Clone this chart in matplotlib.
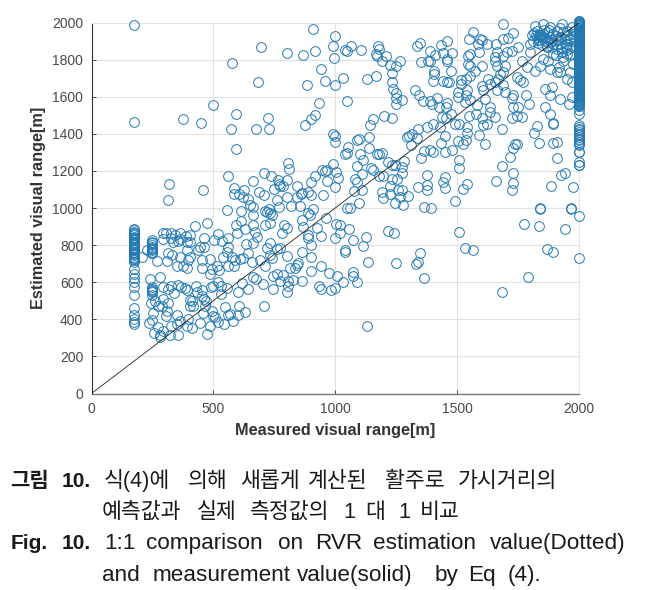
import matplotlib
matplotlib.use('Agg')
import matplotlib.pyplot as plt

plt.rcParams['font.family'] = ['Liberation Sans', 'Noto Sans CJK KR', 'DejaVu Sans']

# upper left part of the cloud
ul_x = [173,173,374,449,499,594,574,593,578,694,683,800,869,916,909,999,991,995,940,958,883,999,932,916,899,875,724,674,727,991,999,999,808,812,991,947,958,968,1003,708,737,561,664,767,801,770,774,787,916,899,967,1013,843,1001,317,456,314,586,627,586,607,623,644,687,708,749,801,761,845,860,865,890,899,950,652,661,557,613,713,730,770,820,856,908]
ul_y = [1985,1464,1480,1457,1555,1505,1424,1320,1783,1869,1680,1836,1826,1844,1964,1926,1876,1806,1747,1686,1661,1664,1566,1503,1480,1449,1485,1428,1428,1399,1388,1356,1240,1209,1238,1204,1200,1204,1195,1189,1175,1172,1148,1150,1150,1132,1120,1120,1173,1139,1143,1163,1116,1114,1129,1098,1041,1109,1098,1073,1078,1060,1050,1084,1068,1102,1057,1043,1059,1075,1080,1086,1068,1071,1016,1003,989,982,983,992,1007,1012,1012,996]

# the two columns of low measured values
col173_y = [885,879,873,866,860,853,846,839,832,825,819,812,805,798,792,785,778,771,765,758,751,745,738,731,724,717,711,672,645,622,600,574,532,459,425,401,384,373]
col247_y = [828,819,810,801,792,785,778,771,765,760,756,574,566,559,552,545,532]

# lower left part
ll_x = [208,226,269,295,295,306,325,325,343,363,363,388,404,336,356,390,404,423,475,462,501,518,537,561,593,615,630,596,664,664,671,678,633,664,732,719,774,760,732,742,801,644,561,555,541,575,589,609,623,657,691,712,462,445,438,315,329,363,390,404,397,311,349,377,390,452,452,486,486,514,493,525,561,585,240,282,292,315,325,356,367,384,390,340,429,434,452,489,497,519,530,557,531,603,616,644,664,675,702,743,746,760,774,787,808,808,801,828,865,815,835,849,842,899,940,973,1006,934,940,981,1001,244,261,274,288,295,315,311,306,352,251,247,236,271,256,281,281,295,322,354,325,349,363,397,390,411,404,411,404,418,452,462,466,470,493,459,500,507,445,486,473,520,544,549,561,568,607,600,630,582,708,719,732,739,712,732,790,801,780,890,897,865,867,890,890,927,940,962,1003,999,899,865,899]
ll_y = [735,771,715,864,832,867,864,837,855,864,832,849,855,819,824,819,819,903,918,837,828,858,824,837,909,932,887,864,962,909,873,846,805,810,814,783,783,778,747,729,742,756,792,765,738,738,720,724,729,708,717,685,792,792,774,756,747,738,774,738,720,715,690,685,676,720,676,724,645,690,672,667,688,690,618,627,574,563,581,586,574,568,556,541,581,545,556,574,581,602,581,568,538,548,595,563,627,616,591,563,631,645,604,640,604,581,545,613,608,676,676,703,694,658,690,652,631,577,563,559,568,487,496,470,470,509,487,443,416,421,434,398,378,358,326,317,305,335,317,317,366,375,389,401,362,353,505,496,473,470,523,511,470,496,443,434,416,412,380,366,321,385,376,466,425,430,473,425,437,393,473,980,971,962,909,918,909,891,864,971,962,936,900,855,837,891,849,948,914,837,801,765,735]

# middle and right part
mr_x = [1065,1039,1047,1107,1033,1048,1174,1181,1167,1173,1191,1208,1225,1249,1266,1232,1232,1132,1167,1238,1249,1249,1275,1249,1334,1349,1433,1459,1389,1409,1389,1382,1353,1444,1478,1457,1460,1475,1404,1407,1400,1444,1460,1468,1326,1342,1359,1389,1416,1396,1427,1460,1455,1200,1156,1233,1141,1140,1098,1091,1054,1040,1047,1140,1102,1170,1191,1181,1115,1091,1145,1154,1108,1081,1091,1108,1077,1181,1195,1218,1232,1245,1273,1282,1273,1232,1252,1225,1191,1197,1225,1259,1273,1266,1300,1245,1277,1099,1061,1047,1341,1375,1375,1375,1441,1450,1450,1526,1539,1492,1366,1392,1509,1509,1351,1366,1389,1403,1450,1478,1434,1450,1310,1293,1304,1314,1337,1341,1375,1403,1430,1437,1455,1475,1492,1509,1539,1539,1505,1526,1537,1591,1616,1550,1578,1601,1621,1608,1657,1635,1635,1683,1724,1745,1767,1728,1749,1793,1783,1724,1697,1731,1683,1660,1731,1731,1724,1717,1728,1738,1745,1834,1892,1909,1909,1827,1817,1861,1879,1892,1895,1884,1927,1944,1977,2000,1998,2000,1840,1966]
mr_y = [1874,1853,1849,1853,1700,1577,1874,1858,1831,1818,1795,1820,1772,1768,1792,1729,1679,1697,1709,1639,1621,1594,1584,1562,1872,1888,1881,1901,1845,1827,1795,1795,1786,1835,1836,1804,1795,1741,1738,1723,1684,1682,1679,1679,1636,1609,1577,1577,1591,1562,1544,1566,1544,1494,1482,1483,1449,1381,1374,1369,1329,1293,1297,1326,1290,1290,1297,1290,1258,1227,1218,1207,1182,1154,1138,1096,1091,1172,1172,1249,1231,1231,1222,1254,1186,1159,1159,1118,1087,1052,1078,1096,1096,1060,1064,1028,1016,1025,998,998,1111,1177,1123,1096,1141,1168,1109,1102,1127,1039,1007,998,1261,1213,1268,1306,1311,1302,1302,1315,1353,1388,1338,1383,1387,1397,1379,1428,1437,1455,1437,1491,1485,1508,1455,1451,1437,1405,1362,1347,1365,1394,1347,1498,1505,1487,1455,1446,1491,1544,1517,1426,1487,1494,1491,1544,1544,1562,1607,1594,1625,1607,1225,1147,1186,1136,1096,1276,1326,1347,1347,1353,1353,1356,1270,1442,1406,1544,1508,1460,1455,1118,1177,1190,1111,1347,1302,1231,998,998]

# sparse points under the diagonal
lr_x = [1057,1125,1074,1115,1040,1040,1133,1074,1074,1091,1033,1129,1215,1241,1249,1349,1341,1333,1363,1508,1533,1567,1683,1791,1775,1834,1842,1967,2000,1943,1868,1892,2000,1020,1020]
lr_y = [887,842,826,796,774,762,708,654,636,599,600,362,876,864,706,758,711,697,624,873,787,774,547,627,916,905,993,996,957,885,780,765,728,864,909]

# upper right part, over the diagonal
ur_x = [1690,1567,1550,1594,1601,1587,1622,1658,1591,1690,1710,1728,1751,1663,1656,1704,1724,1690,1656,1663,1601,1546,1553,1544,1553,1574,1553,1537,1515,1515,1601,1626,1608,1669,1656,1635,1676,1690,1697,1765,1745,1758,1772,1786,1820,1861,1888,1881,1922,1957,1973,1505,1539,1537,1505,1533,1553,1615,1580,1663,1690]
ur_y = [1994,1948,1912,1912,1903,1885,1885,1885,1840,1912,1917,1942,1867,1840,1813,1840,1849,1822,1795,1768,1768,1822,1831,1777,1768,1741,1709,1697,1688,1666,1655,1697,1634,1697,1679,1666,1723,1732,1768,1795,1706,1688,1679,1759,1741,1643,1652,1607,1589,1562,1598,1625,1634,1607,1598,1571,1580,1589,1553,1634,1661]

# dense cluster in the top right corner
tr_x = [1806,1799,1820,1851,1881,1932,1827,1854,1881,1909,1950,1840,1868,1909,1950,1799,1895,1929,1963,1881,1916,1922,1963,1950,1970,1854,1840,1874,1909,1835,1846,1857,1827,1868,1895,1922,1943,1963,1977,1970,1868,1895,1922,1977,1936,1977,1950,1854,1840,1909,1815,1830,1845,1860,1875,1890,1905,1920,1935,1950,1965,1980,1810,1830,1850,1870,1890,1910,1930,1950,1825,1855,1885,1915,1945,1975,1905,1935,1965,1985]
tr_y = [1930,1885,1983,1992,1974,1992,1956,1939,1921,1956,1956,1903,1867,1858,1885,1840,1831,1840,1831,1750,1759,1732,1732,1697,1679,1804,1768,1795,1732,1930,1921,1903,1921,1948,1939,1921,1912,1903,1939,1974,1894,1885,1885,1867,1795,1777,1831,1921,1935,1912,1945,1908,1930,1915,1962,1905,1928,1968,1950,1930,1915,1955,1900,1890,1880,1875,1868,1880,1860,1850,1935,1958,1895,1905,1870,1925,1825,1815,1860,1895]

# measured value saturates at 2000 m
col2000_y = [2010,2006,2002,1998,1995,1991,1988,1984,1980,1976,1973,1969,1966,1962,1958,1954,1951,1947,1944,1940,1936,1932,1929,1925,1922,1918,1914,1910,1907,1903,1900,1896,1892,1888,1885,1881,1878,1874,1870,1866,1863,1859,1856,1852,1848,1844,1841,1837,1834,1830,1826,1822,1819,1815,1812,1808,1804,1800,1797,1793,1790,1786,1782,1778,1775,1771,1768,1764,1760,1756,1753,1749,1746,1742,1738,1734,1731,1727,1724,1720,1716,1712,1709,1705,1702,1698,1694,1690,1687,1683,1680,1676,1672,1668,1665,1661,1658,1654,1650,1646,1643,1639,1636,1632,1628,1624,1621,1617,1614,1610,1606,1602,1599,1595,1592,1588,1584,1580,1577,1573,1570,1566,1562,1558,1555,1551,1548,1526,1508,1446,1437,1428,1419,1410,1401,1392,1383,1374,1365,1356,1338,1302,1249,1231]

x_ticks = [0, 500, 1000, 1500, 2000]
y_ticks = [0, 200, 400, 600, 800, 1000, 1200, 1400, 1600, 1800, 2000]

measured = ul_x + [173] * len(col173_y) + [247] * len(col247_y) + ll_x + mr_x + lr_x + ur_x + tr_x + [2000] * len(col2000_y)
estimated = ul_y + col173_y + col247_y + ll_y + mr_y + lr_y + ur_y + tr_y + col2000_y

W, H = 646, 590
fig = plt.figure(figsize=(W / 100, H / 100), dpi=100)
ax = fig.add_axes([91.5 / W, 1 - 393.5 / H, 487.5 / W, 371 / H])

ax.plot(measured, estimated, 'o', mfc='none', mec='#2479b2', mew=0.7, ms=7.0, clip_on=False, zorder=3)
ax.plot([0, 2000], [0, 2000], color='#222222', lw=0.6, zorder=4)

ax.set_xlim(0, 2000)
ax.set_ylim(0, 2000)
ax.set_xticks(x_ticks)
ax.set_yticks(y_ticks)
ax.grid(True, color='#e2e2e2', lw=0.8)
ax.set_axisbelow(True)
ax.tick_params(direction='in', length=3, width=0.7, labelsize=10, colors='#4a4a4a', pad=6)
ax.spines['top'].set_color('#e6e6e6')
ax.spines['right'].set_color('#e6e6e6')
ax.spines['left'].set_color('#333333')
ax.spines['bottom'].set_color('#777777')
ax.spines['bottom'].set_linewidth(1.0)

ax.set_xlabel('Measured visual range[m]', fontsize=11.7, fontweight='bold', color='#333333', labelpad=5)
ax.set_ylabel('Estimated visual range[m]', fontsize=11.7, fontweight='bold', color='#333333', labelpad=4)

# caption, words placed one by one because the source is justified
def put(x, y, s, size=16.2, bold=False):
    fig.text(x / W, 1 - y / H, s, fontsize=size, va='baseline', ha='left', color='#1a1a1a',
             fontweight='bold' if bold else 'normal')

put(10, 487, '그림', 15.2, True)
put(62, 487, '10.', 15, True)
for x, s in [(104, '식(4)에'), (188, '의해'), (240, '새롭게'), (308, '계산된'), (385, '활주로'), (458, '가시거리의')]:
    put(x, 487, s, 15.6)
for x, s in [(102, '예측값과'), (197, '실제'), (250, '측정값의'), (343, '1'), (365, '대'), (398, '1'), (420, '비교')]:
    put(x, 518, s, 15.6)
put(11, 549, 'Fig.', 15, True)
put(62, 549, '10.', 15, True)
for x, s in [(104, '1:1'), (146, 'comparison'), (278, 'on'), (315, 'RVR'), (373, 'estimation'), (490, 'value(Dotted)')]:
    put(x, 549, s)
for x, s in [(102, 'and'), (153, 'measurement'), (297, 'value(solid)'), (435, 'by'), (468, 'Eq'), (508, '(4).')]:
    put(x, 581, s)

fig.savefig('out.png', dpi=100)
